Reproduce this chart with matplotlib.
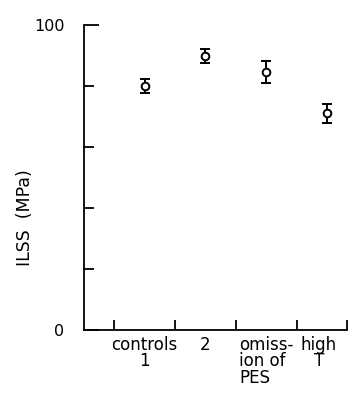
import matplotlib
matplotlib.use("Agg")
import matplotlib.pyplot as plt
import numpy as np

# data
groups = ["controls\n1", "2", "omiss-\nion of\nPES", "high\nT"]
ilss = [80, 90, 84.5, 71]
err = [2.2, 2.3, 3.6, 3.0]

plt.rcParams["font.family"] = "DejaVu Sans"
fig = plt.figure(figsize=(3.57, 3.96), dpi=100)
ax = fig.add_axes([0.235, 0.1667, 0.737, 0.770])

x = np.arange(1, len(ilss) + 1)
ax.errorbar(x, ilss, yerr=err, fmt="o", mfc="white", mec="black", ms=5.5, mew=1.4,
            ecolor="black", elinewidth=1.4, capsize=3.5, capthick=1.4, color="black")

ax.set_xlim(0, 4.33)
ax.set_ylim(0, 100)
for s in ["top", "right"]:
    ax.spines[s].set_visible(False)
for s in ["left", "bottom"]:
    ax.spines[s].set_linewidth(1.3)

ax.set_yticks([0, 100])
ax.set_yticklabels(["0", "100"])
ax.set_yticks([20, 40, 60, 80], minor=True)
ax.tick_params(axis="y", which="major", direction="in", length=11, width=1.3, pad=14, labelsize=11.5)
ax.tick_params(axis="y", which="minor", direction="in", length=7.5, width=1.3)

ax.set_xticks([0.5, 1.5, 2.5, 3.5, 4.33])
ax.set_xticklabels([])
# label for "high T" sits a little left of its point
ax.set_xticks([1, 2, 3, 3.87], minor=True)
labels = ax.set_xticklabels(groups, minor=True, fontsize=12, linespacing=0.92)
labels[2].set_multialignment("left")
labels[3].set_multialignment("center")
ax.tick_params(axis="x", which="major", direction="in", length=7.5, width=1.3)
ax.tick_params(axis="x", which="minor", length=0, pad=4)

ax.set_ylabel("ILSS  (MPa)", fontsize=12.5)
ax.yaxis.set_label_coords(-0.19, 0.37)

fig.savefig("out.png", dpi=100)
